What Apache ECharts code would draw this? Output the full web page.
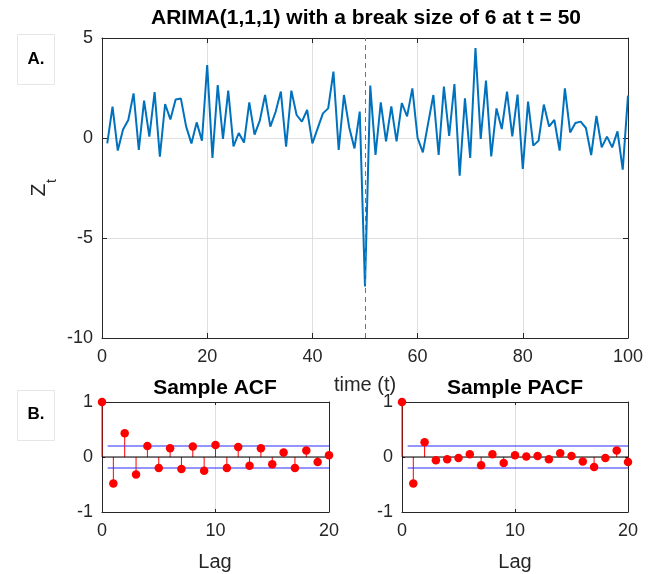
<!DOCTYPE html>
<html><head><meta charset="utf-8">
<script src="https://cdn.jsdelivr.net/npm/echarts@6/dist/echarts.min.js"></script>
<style>html,body{margin:0;padding:0;background:#fff}#c{width:653px;height:574px}</style>
</head><body><div id="c"></div>
<script>
// ---- data ----
const timeIndex = [1,2,3,4,5,6,7,8,9,10,11,12,13,14,15,16,17,18,19,20,21,22,23,24,25,26,27,28,29,30,31,32,33,34,35,36,37,38,39,40,41,42,43,44,45,46,47,48,49,50,51,52,53,54,55,56,57,58,59,60,61,62,63,64,65,66,67,68,69,70,71,72,73,74,75,76,77,78,79,80,81,82,83,84,85,86,87,88,89,90,91,92,93,94,95,96,97,98,99,100];
const zValues = [-0.27,1.57,-0.63,0.43,0.9,2.23,-0.6,1.87,0.07,2.3,
  -0.93,1.7,0.93,1.92,1.97,0.57,-0.27,0.78,-0.13,3.65,
  -1.0,2.65,-0.05,2.37,-0.42,0.25,-0.23,1.78,0.17,0.87,
  2.15,0.57,1.3,2.32,-0.43,2.37,1.15,0.82,1.4,-0.27,
  0.48,1.23,1.48,3.32,-0.6,2.15,0.53,-0.52,1.32,-7.42,
  2.62,-0.85,1.78,-0.17,1.58,-0.17,1.75,1.08,2.48,0,
  -0.72,0.73,2.15,-0.85,2.57,0.1,2.7,-1.88,1.98,-1.0,
  4.5,-0.05,2.87,-0.92,1.48,0.45,2.32,0.08,2.17,-1.55,
  1.82,-0.38,-0.13,1.67,0.58,0.9,-0.63,2.48,0.28,0.75,
  0.82,0.5,-0.85,1.1,-0.47,0.07,-0.47,0.33,-1.58,2.12];
const breakTime = 50;
const lags = [0,1,2,3,4,5,6,7,8,9,10,11,12,13,14,15,16,17,18,19,20];
const acfValues = [1,-0.48,0.43,-0.32,0.2,-0.2,0.16,-0.22,0.19,-0.25,0.22,-0.2,0.18,-0.16,0.16,-0.13,0.08,-0.2,0.12,-0.09,0.03];
const pacfValues = [1,-0.48,0.27,-0.06,-0.04,-0.02,0.05,-0.15,0.05,-0.11,0.03,0.01,0.02,-0.04,0.07,0.02,-0.08,-0.18,-0.02,0.12,-0.09];
const confBound = 0.2;
const boundStartLag = 0.5;
const mainXTicks = [0,20,40,60,80,100];
const mainYTicks = [-10,-5,0,5];
const lagTicks = [0,10,20];
const corrTicks = [-1,0,1];

// ---- styling ----
const FONT = "'Liberation Sans', Arial, Helvetica, sans-serif";
const AX = '#262626';
const GRIDC = '#dfdfdf';

const chart = echarts.init(document.getElementById('c'), null, {renderer: 'canvas'});

function axesFor(gi, xmin, xmax, xint, ymin, ymax, yint, tickLen) {
  const common = {
    axisLine: {show: true, onZero: false, lineStyle: {color: AX, width: 1}},
    axisTick: {show: true, inside: true, length: tickLen, lineStyle: {color: AX}},
  };
  const xs = [
    Object.assign({type: 'value', gridIndex: gi, position: 'bottom', min: xmin, max: xmax, interval: xint,
      axisLabel: {color: AX, fontSize: 18, fontFamily: FONT, margin: 10},
      splitLine: {show: true, lineStyle: {color: GRIDC, width: 1}}}, common),
    Object.assign({type: 'value', gridIndex: gi, position: 'top', min: xmin, max: xmax, interval: xint,
      axisLabel: {show: false}, splitLine: {show: false}}, common)
  ];
  const ys = [
    Object.assign({type: 'value', gridIndex: gi, position: 'left', min: ymin, max: ymax, interval: yint,
      axisLabel: {color: AX, fontSize: 18, fontFamily: FONT, margin: 9},
      splitLine: {show: true, lineStyle: {color: GRIDC, width: 1}}}, common),
    Object.assign({type: 'value', gridIndex: gi, position: 'right', min: ymin, max: ymax, interval: yint,
      axisLabel: {show: false}, splitLine: {show: false}}, common)
  ];
  return {xs, ys};
}

const a0 = axesFor(0, mainXTicks[0], mainXTicks[mainXTicks.length-1], 20, mainYTicks[0], mainYTicks[mainYTicks.length-1], 5, 5);
const a1 = axesFor(1, lagTicks[0], lagTicks[2], 10, corrTicks[0], corrTicks[2], 1, 3);
const a2 = axesFor(2, lagTicks[0], lagTicks[2], 10, corrTicks[0], corrTicks[2], 1, 3);

const xAxis = [...a0.xs, ...a1.xs, ...a2.xs];
const yAxis = [...a0.ys, ...a1.ys, ...a2.ys];

function corrSeries(vals, xi, yi) {
  const pts = lags.map((l, i) => [l, vals[i]]);
  return [
    {
      type: 'custom', xAxisIndex: xi, yAxisIndex: yi, z: 2, data: pts,
      renderItem: function (params, api) {
        const p0 = api.coord([api.value(0), 0]);
        const p1 = api.coord([api.value(0), api.value(1)]);
        return {type: 'line', shape: {x1: p0[0], y1: p0[1], x2: p1[0], y2: p1[1]},
          style: {stroke: '#ff0000', lineWidth: 1}};
      }
    },
    {type: 'line', xAxisIndex: xi, yAxisIndex: yi, z: 3, symbol: 'none',
      data: [[lags[0], 0], [lags[lags.length-1], 0]], lineStyle: {color: '#000', width: 1}},
    {type: 'line', xAxisIndex: xi, yAxisIndex: yi, z: 4, symbol: 'none',
      data: [[boundStartLag, confBound], [lags[lags.length-1], confBound]], lineStyle: {color: '#2a2aff', width: 1.2}},
    {type: 'line', xAxisIndex: xi, yAxisIndex: yi, z: 4, symbol: 'none',
      data: [[boundStartLag, -confBound], [lags[lags.length-1], -confBound]], lineStyle: {color: '#2a2aff', width: 1.2}},
    {type: 'scatter', xAxisIndex: xi, yAxisIndex: yi, z: 5, symbol: 'circle', symbolSize: 8.5,
      data: pts, itemStyle: {color: '#ff0000', opacity: 1}}
  ];
}

const option = {
  animation: false,
  backgroundColor: '#fff',
  grid: [
    {left: 102, top: 38, width: 526, height: 300},
    {left: 102, top: 402, width: 227, height: 110},
    {left: 402, top: 402, width: 226, height: 110}
  ],
  xAxis, yAxis,
  series: [
    {
      type: 'line', xAxisIndex: 0, yAxisIndex: 0, symbol: 'none', z: 3,
      data: timeIndex.map((t, i) => [t, zValues[i]]),
      lineStyle: {color: '#0072BD', width: 2},
      markLine: {
        silent: true, symbol: ['none', 'none'], label: {show: false},
        lineStyle: {color: '#D95319', type: [5, 4], width: 1},
        data: [{xAxis: breakTime}]
      }
    },
    ...corrSeries(acfValues, 2, 2),
    ...corrSeries(pacfValues, 4, 4)
  ],
  graphic: [
    {type: 'text', style: {text: 'ARIMA(1,1,1) with a break size of 6 at t = 50', x: 366, y: 18, textAlign: 'center', textVerticalAlign: 'middle', font: 'bold 21px ' + FONT, fill: '#000'}},
    {type: 'text', style: {text: 'Sample ACF', x: 215, y: 388, textAlign: 'center', textVerticalAlign: 'middle', font: 'bold 21px ' + FONT, fill: '#000'}},
    {type: 'text', style: {text: 'Sample PACF', x: 515, y: 388, textAlign: 'center', textVerticalAlign: 'middle', font: 'bold 21px ' + FONT, fill: '#000'}},
    {type: 'text', style: {text: 'time (t)', x: 365, y: 385, textAlign: 'center', textVerticalAlign: 'middle', font: '20px ' + FONT, fill: AX}},
    {type: 'text', style: {text: 'Lag', x: 215, y: 562, textAlign: 'center', textVerticalAlign: 'middle', font: '20px ' + FONT, fill: AX}},
    {type: 'text', style: {text: 'Lag', x: 515, y: 562, textAlign: 'center', textVerticalAlign: 'middle', font: '20px ' + FONT, fill: AX}},
    {type: 'text', x: 39, y: 190, rotation: Math.PI / 2, style: {text: 'Z', x: 0, y: 0, textAlign: 'center', textVerticalAlign: 'middle', font: '21px ' + FONT, fill: AX}},
    {type: 'text', x: 52, y: 181, rotation: Math.PI / 2, style: {text: 't', x: 0, y: 0, textAlign: 'center', textVerticalAlign: 'middle', font: '14px ' + FONT, fill: AX}},
    {type: 'rect', shape: {x: 17.5, y: 34.5, width: 37, height: 50}, style: {fill: '#fff', stroke: '#e6e6e6', lineWidth: 1}},
    {type: 'text', style: {text: 'A.', x: 36, y: 59, textAlign: 'center', textVerticalAlign: 'middle', font: 'bold 17px ' + FONT, fill: '#000'}},
    {type: 'rect', shape: {x: 17.5, y: 390.5, width: 37, height: 50}, style: {fill: '#fff', stroke: '#e6e6e6', lineWidth: 1}},
    {type: 'text', style: {text: 'B.', x: 36, y: 414, textAlign: 'center', textVerticalAlign: 'middle', font: 'bold 17px ' + FONT, fill: '#000'}}
  ]
};
chart.setOption(option);
</script>
</body></html>
